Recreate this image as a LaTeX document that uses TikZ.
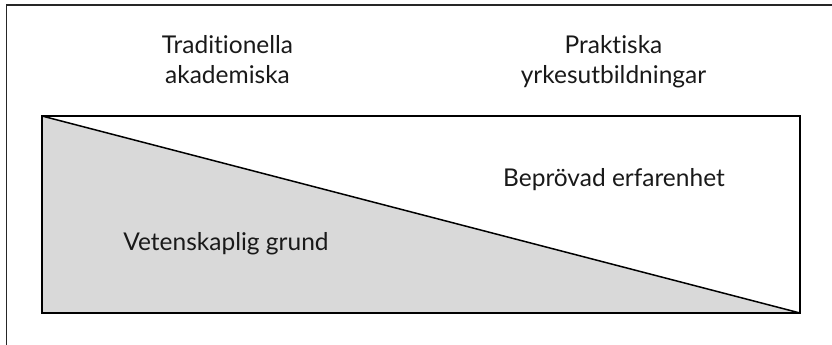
\documentclass[tikz,border=0pt]{standalone}
\usepackage{fontspec}
\setmainfont{Lato}[Ligatures={NoCommon}]
\begin{document}
\begin{tikzpicture}[x=1pt,y=-1pt,
  lbl/.style={font=\fontsize{24.5}{30}\selectfont, text=black!90, inner sep=0pt, anchor=base, align=center},
  frame/.style={draw=black!85, line width=1.5pt}]
\useasboundingbox (0,0) rectangle (832,345);
\draw[frame] (6.5,360) -- (6.5,5) -- (840,5);
\coordinate (tl) at (42,116);
\coordinate (br) at (800,313);
\fill[gray!30] (tl) -- (tl|-br) -- (br) -- cycle;
\draw[line width=1.5pt] (tl) rectangle (br);
\draw[line width=1.5pt] (tl) -- (br);
\node[lbl] (trad) at (227.5,53.3) {Traditionella};
\node[lbl] (akad) at (227.5,83.3) {akademiska};
\node[lbl] (prak) at (613.5,53.3) {Praktiska};
\node[lbl] (yrke) at (613.5,83.3) {yrkesutbildningar};
\node[lbl] (bepr) at (614,186.7) {Beprövad erfarenhet};
\node[lbl] (vet) at (226,250.5) {Vetenskaplig grund};
\end{tikzpicture}
\end{document}
